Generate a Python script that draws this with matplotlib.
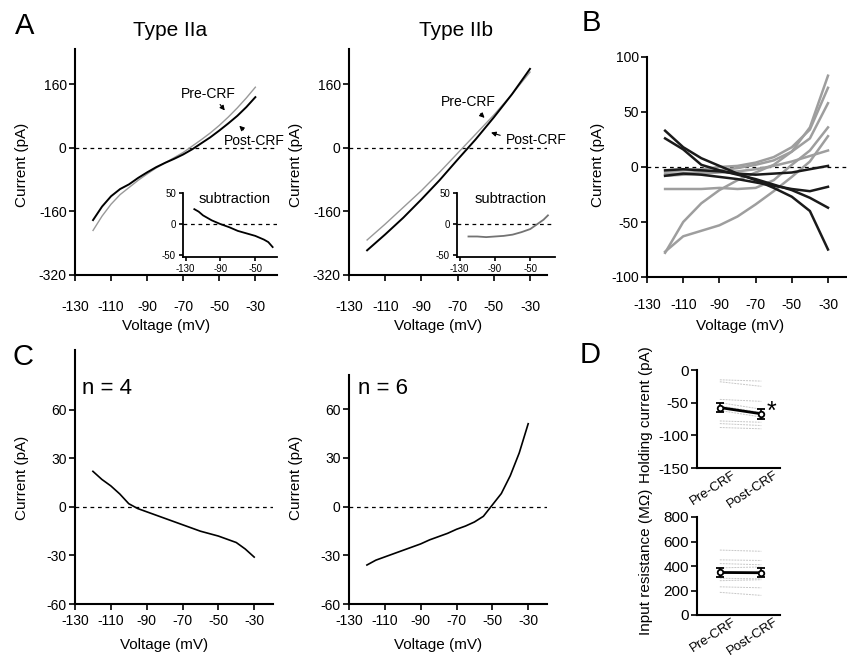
import matplotlib
matplotlib.use('Agg')
import matplotlib.pyplot as plt

# ---- data ----
v10 = [-120, -110, -100, -90, -80, -70, -60, -50, -40, -30]
v5 = [-120, -115, -110, -105, -100, -95, -90, -85, -80, -75, -70, -65, -60, -55, -50, -45, -40, -35, -30]

# A, type IIa
post_a = [-182, -148, -122, -104, -92, -76, -62, -49, -38, -28, -17, -4, 11, 26, 43, 61, 80, 102, 127]
pre_a = [-208, -172, -142, -118, -100, -82, -66, -51, -38, -25, -12, 4, 20, 37, 56, 77, 100, 125, 152]
# A, type IIb
post_b = [-258, -218, -176, -130, -82, -30, 21, 76, 134, 198]
pre_b = [-232, -192, -150, -108, -62, -14, 34, 82, 134, 190]

# insets (post - pre)
v_sub_a = [-120, -115, -110, -100, -90, -80, -70, -60, -50, -40, -35, -30]
sub_a = [24, 20, 14, 6, 0, -5, -11, -15, -19, -25, -29, -37]
v_sub_b = [-120, -110, -100, -90, -80, -70, -60, -50, -45, -40, -35, -30]
sub_b = [-20, -20, -21, -20, -19, -17, -13, -8, -3, 2, 7, 14]

# B, single cells (black = IIa, gray = IIb)
black_cells = [
    [33, 18, 8, 1, -6, -12, -19, -27, -40, -75],
    [26, 16, 2, -3, -7, -11, -16, -21, -28, -37],
    [-3, -2, -3, -4, -6, -7, -6, -5, -2, 1],
    [-8, -6, -7, -9, -11, -14, -17, -20, -22, -18],
]
gray_cells = [
    [-78, -50, -33, -21, -12, -5, 2, 14, 36, 83],
    [-77, -63, -58, -53, -45, -34, -22, -9, 5, 28],
    [-20, -20, -20, -19, -20, -19, -12, 2, 15, 36],
    [-6, -6, -4, -3, -1, 2, 6, 14, 26, 58],
    [-8, -7, -6, -5, -4, -2, 1, 5, 10, 15],
    [-4, -3, -2, 0, 1, 4, 9, 18, 34, 72],
]

# C, averages
avg_n4 = [22, 17, 13, 8, 2, -1, -3, -5, -7, -9, -11, -13, -15, -16.5, -18, -20, -22, -26, -31]
avg_n6 = [-36, -33, -31, -29, -27, -25, -23, -20.5, -18.5, -16.5, -14, -12, -9.5, -6, 1, 8, 19, 33, 51]

# D
conds = ['Pre-CRF', 'Post-CRF']
hold_pre = [-15, -18, -45, -50, -55, -62, -78, -82, -88]
hold_post = [-17, -25, -48, -60, -65, -72, -80, -85, -90]
hold_mean = [-57.5, -67]
hold_err = [7.5, 8]
res_pre = [530, 450, 420, 385, 300, 280, 230, 185, 10]
res_post = [520, 445, 410, 392, 295, 288, 222, 160, 10]
res_mean = [347, 345]
res_err = [37, 37]

vticks = [-130, -110, -90, -70, -50, -30]

plt.rcParams['font.family'] = ['Liberation Sans', 'DejaVu Sans']
plt.rcParams['axes.unicode_minus'] = False
W, H = 847, 659
fig = plt.figure(figsize=(W / 100, H / 100), dpi=100)


def box(l, t, r, b):
    return [l / W, 1 - b / H, (r - l) / W, (b - t) / H]


def ftext(x, y, s, **kw):
    fig.text(x / W, 1 - y / H, s, **kw)


def style(ax, xpad=3, size=10, lw=1.5):
    for s in ['top', 'right']:
        ax.spines[s].set_visible(False)
    for s in ['left', 'bottom']:
        ax.spines[s].set_linewidth(lw)
    ax.tick_params(direction='out', length=4, width=1.2, labelsize=size)
    ax.tick_params(axis='x', pad=xpad)
    ax.tick_params(axis='y', pad=2)


def zero_line(ax):
    ax.axhline(0, color='black', lw=0.9, ls=(0, (3, 3)), zorder=1)


def arrow(ax, tip, tail):
    ax.annotate('', xy=tip, xytext=tail,
                arrowprops=dict(arrowstyle='-|>', lw=0.8, color='black', mutation_scale=7))


# ---------- A ----------
for (l, r, xmax, vv, post, pre, title, tx) in [
        (75, 277, -18, v5, post_a, pre_a, 'Type IIa', 170),
        (349, 547, -20.6, v10, post_b, pre_b, 'Type IIb', 456)]:
    ax = fig.add_axes(box(l, 49, r, 275))
    style(ax, xpad=14)
    ax.set_xlim(-130, xmax)
    ax.set_ylim(-320, 248)
    ax.set_xticks(vticks)
    ax.set_yticks([-320, -160, 0, 160])
    zero_line(ax)
    ax.plot(vv, pre, color='0.6', lw=1.0)
    ax.plot(vv, post, color='black', lw=1.4)
    ftext(tx, 30, title, fontsize=15, ha='center', va='center')
    ftext((l + r) / 2 - 10, 326, 'Voltage (mV)', fontsize=11, ha='center', va='center')
    ftext(l - 53, 165, 'Current (pA)', fontsize=11, rotation=90, ha='center', va='center')
    if title == 'Type IIa':
        arrow(ax, (-46, 88), (-50.5, 114))
        ax.text(-56, 134, 'Pre-CRF', fontsize=10, ha='center', va='center')
        arrow(ax, (-40, 60), (-35.5, 40))
        ax.text(-47.5, 18, 'Post-CRF', fontsize=10, ha='left', va='center')
    else:
        arrow(ax, (-54, 70), (-58.5, 90))
        ax.text(-64, 114, 'Pre-CRF', fontsize=10, ha='center', va='center')
        arrow(ax, (-53, 40), (-45, 29))
        ax.text(-43.5, 19, 'Post-CRF', fontsize=10, ha='left', va='center')

# insets
for (l, r, xl, vv, sub, col) in [(183, 277, (-133, -25), v_sub_a, sub_a, 'black'),
                                 (457, 555, (-133, -22), v_sub_b, sub_b, '0.45')]:
    ax = fig.add_axes(box(l, 193, r, 257))
    ax.patch.set_alpha(0)
    style(ax, xpad=2, size=7, lw=1.3)
    ax.tick_params(length=3)
    ax.set_xlim(*xl)
    ax.set_ylim(-53, 50)
    ax.set_xticks([-130, -90, -50])
    ax.set_yticks([-50, 0, 50])
    zero_line(ax)
    ax.plot(vv, sub, color=col, lw=1.3)
    ax.text(0.55, 0.9, 'subtraction', transform=ax.transAxes, fontsize=10.5,
            ha='center', va='center')

# ---------- B ----------
ax = fig.add_axes(box(647, 57, 847, 277))
style(ax, xpad=11)
ax.set_xlim(-130, -19.5)
ax.set_ylim(-100, 100)
ax.set_xticks(vticks)
ax.set_yticks([-100, -50, 0, 50, 100])
zero_line(ax)
for tr in gray_cells:
    ax.plot(v10, tr, color='0.62', lw=1.8)
for tr in black_cells:
    ax.plot(v10, tr, color='0.1', lw=1.8)
ftext(740, 326, 'Voltage (mV)', fontsize=11, ha='center', va='center')
ftext(598, 165, 'Current (pA)', fontsize=11, rotation=90, ha='center', va='center')

# ---------- C ----------
for (l, r, top, ymax, avg, lab, lx) in [(75, 273, 350, 97, avg_n4, 'n = 4', 82),
                                        (349, 547, 375, 81, avg_n6, 'n = 6', 358)]:
    ax = fig.add_axes(box(l, top, r, 604))
    style(ax, xpad=3)
    ax.set_xlim(-130, -19.5)
    ax.set_ylim(-60, ymax)
    ax.set_xticks(vticks)
    ax.set_yticks([-60, -30, 0, 30, 60])
    zero_line(ax)
    ax.plot(v5, avg, color='black', lw=1.2)
    ftext(lx, 388, lab, fontsize=16, ha='left', va='center')
    ftext((l + r) / 2 - 10, 645, 'Voltage (mV)', fontsize=11, ha='center', va='center')
    ftext(l - 53, 478, 'Current (pA)', fontsize=11, rotation=90, ha='center', va='center')

# ---------- D ----------
for (t, b, pre, post, mean, err, yl, yt, lab, ly) in [
        (370, 468, hold_pre, hold_post, hold_mean, hold_err, (-150, 0),
         [-150, -100, -50, 0], 'Holding current (pA)', 415),
        (517, 615, res_pre, res_post, res_mean, res_err, (0, 800),
         [0, 200, 400, 600, 800], 'Input resistance (M\u03a9)', 562)]:
    ax = fig.add_axes(box(697, t, 780, b))
    style(ax)
    ax.set_xlim(-0.55, 1.45)
    ax.set_ylim(*yl)
    ax.set_yticks(yt)
    ax.tick_params(axis='y', labelsize=11)
    ax.set_xticks([])
    for p, q in zip(pre, post):
        ax.plot([0, 1], [p, q], color='0.78', lw=0.7, ls=(0, (2, 1)))
    ax.errorbar([0, 1], mean, yerr=err, color='black', lw=2, marker='o', ms=4,
                mfc='white', mew=1.3, capsize=3, elinewidth=1.2, capthick=1.2)
    for i, c in enumerate(conds):
        ax.text(i + 0.3, -0.01, c, transform=ax.get_xaxis_transform(), fontsize=9.5,
                rotation=33, ha='right', va='top', rotation_mode='anchor')
    ftext(646, ly, lab, fontsize=11, rotation=90, ha='center', va='center')

ftext(771, 412, '*', fontsize=18, ha='center', va='center')

# panel letters
ftext(25, 26, 'A', fontsize=21, ha='center', va='center')
ftext(591, 23, 'B', fontsize=21, ha='center', va='center')
ftext(23, 357, 'C', fontsize=21, ha='center', va='center')
ftext(590, 355, 'D', fontsize=21, ha='center', va='center')

fig.savefig('out.png', dpi=100)
